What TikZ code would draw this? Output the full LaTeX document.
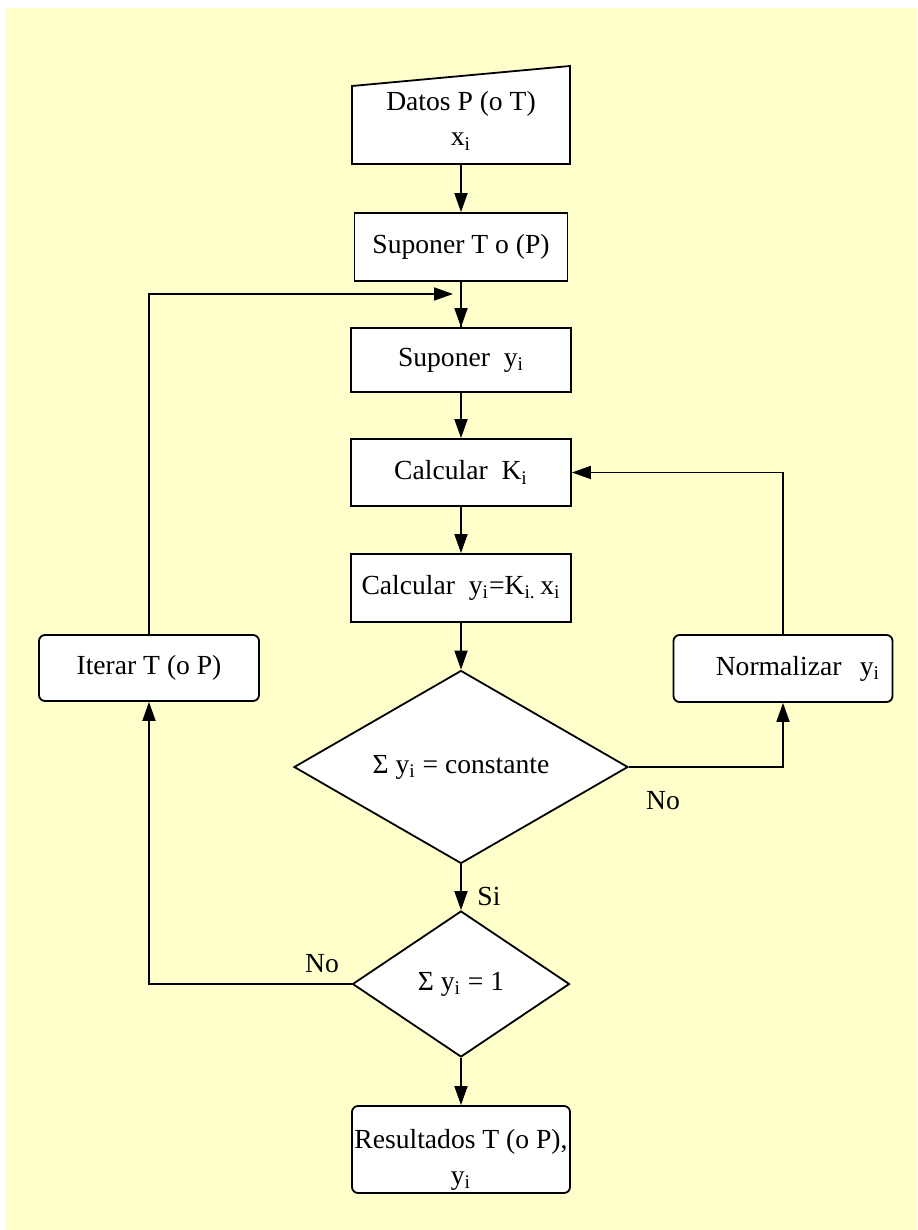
\documentclass[tikz,border=0pt]{standalone}
\usepackage{fontspec}
\setmainfont{Liberation Serif}
\usepackage{xcolor}
\usetikzlibrary{arrows.meta, shapes.geometric, calc}
\definecolor{bgyellow}{HTML}{FFFFCC}

\tikzset{
    caja/.style={draw, fill=white, line width=0.9pt, inner sep=0pt, align=center,
        minimum width=110pt, minimum height=33pt},
    cajared/.style={caja, rounded corners=3pt},
    rombo/.style={draw, fill=white, line width=0.9pt, diamond, inner sep=0pt},
    flujo/.style={line width=0.9pt, -{Triangle[length=9.5pt, width=6.5pt]}},
    linea/.style={line width=0.9pt}
}

\begin{document}
\begin{tikzpicture}[x=0.5pt, y=-0.5pt, font=\fontsize{13.8}{17.5}\selectfont]

    % 0. Background
    \useasboundingbox (0,0) rectangle (917,1230);
    \fill[bgyellow] (5,8) rectangle (917,1230);

    % 1. Datos (manual input)
    \coordinate (D1) at (352,164);
    \coordinate (D2) at (570,164);
    \coordinate (D3) at (570,66);
    \coordinate (D4) at (352,86);
    \draw[fill=white, line width=0.9pt] (D1) -- (D2) -- (D3) -- (D4) -- cycle;
    \node[inner sep=0pt, minimum width=109pt, minimum height=49pt] (datos) at (461,115) {};
    \node[align=center] (datostxt) at (461,121) {Datos P (o T)\\x\textsubscript{i}};

    % 2. Process boxes
    \node[caja, minimum width=106.5pt, minimum height=34pt] (supT) at (461,247) {Suponer T o (P)};
    \node[caja, minimum height=32pt] (supY) at (461,360) {Suponer~ y\textsubscript{i}};
    \node[caja, minimum height=33.5pt] (calcK) at (461,472.5) {Calcular~ K\textsubscript{i}};
    \node[caja, minimum height=34pt] (calcY) at (461,588)
        {Calcular~ y\textsubscript{i}=K\textsubscript{i.}\,x\textsubscript{i}};

    % 3. Decisions
    \node[rombo, minimum width=167pt, minimum height=96.5pt, aspect=1.73] (dec1) at (461,767)
        {Σ y\textsubscript{i} = constante};
    \node[rombo, minimum width=108.5pt, minimum height=73pt, aspect=1.49] (dec2) at (461,984)
        {Σ y\textsubscript{i} = 1};

    % 4. Side boxes and result
    \node[cajared, minimum width=109.5pt, minimum height=33.5pt, text width=97pt,
        align=right] (norm) at (783,668.5) {Normalizar~ y\textsubscript{i}};
    \node[cajared] (iter) at (149,668) {Iterar T (o P)};
    \node[cajared, minimum width=109pt, minimum height=43.5pt] (res) at (461,1149.5)
        {\rule{0pt}{20pt}Resultados T (o P),\\[0.5pt]y\textsubscript{i}};

    % 5. Main flow
    \draw[flujo] (datos.south) -- (supT.north);
    \draw[linea] (supT.south) -- (supY.north);
    \draw[flujo] ($(supY.north)+(0,-14)$) -- (supY.north);
    \draw[flujo] (supY.south) -- (calcK.north);
    \draw[flujo] (calcK.south) -- (calcY.north);
    \draw[flujo] (calcY.south) -- (dec1.north);
    \draw[flujo] (dec1.south) -- (dec2.north);
    \draw[flujo] (dec2.south) -- (res.north);

    % 6. Loops
    \coordinate (union) at (453,294);
    \draw[flujo] (dec1.east) -| (norm.south);
    \draw[flujo] (norm.north) |- (calcK.east);
    \draw[flujo] (dec2.west) -| (iter.south);
    \draw[flujo] (iter.north) |- (union);

    % 7. Labels
    \node (no1) at (663,801) {No};
    \node (si) at (489,896) {Si};
    \node (no2) at (322,964) {No};

\end{tikzpicture}
\end{document}
